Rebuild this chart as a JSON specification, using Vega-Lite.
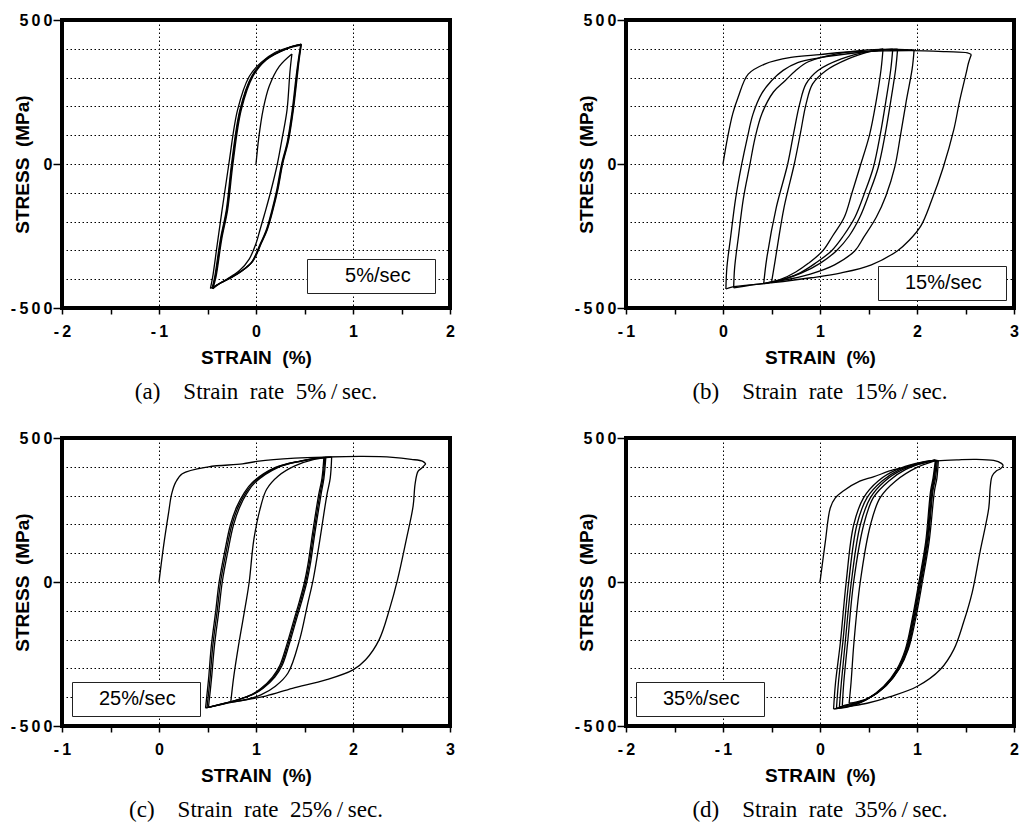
{
"$schema": "https://vega.github.io/schema/vega-lite/v6.json",
"background": "white",
"padding": {"left": 8, "top": 10, "right": 4, "bottom": 4},
"columns": 2,
"spacing": {"row": 22, "column": 115},
"datasets": {
"A": [
{"c":1,"i":0,"x":0,"y":0},{"c":1,"i":1,"x":0.03,"y":95},{"c":1,"i":2,"x":0.073,"y":188},{"c":1,"i":3,"x":0.135,"y":269},{"c":1,"i":4,"x":0.24,"y":339},{"c":1,"i":5,"x":0.37,"y":382},
{"c":2,"i":0,"x":0.37,"y":382},{"c":2,"i":1,"x":0.35,"y":320},{"c":2,"i":2,"x":0.32,"y":188},{"c":2,"i":3,"x":0.27,"y":90},{"c":2,"i":4,"x":0.22,"y":0},{"c":2,"i":5,"x":0.16,"y":-85},{"c":2,"i":6,"x":0.10,"y":-160},{"c":2,"i":7,"x":0.04,"y":-230},{"c":2,"i":8,"x":0.0,"y":-276},{"c":2,"i":9,"x":-0.07,"y":-330},{"c":2,"i":10,"x":-0.17,"y":-370},{"c":2,"i":11,"x":-0.30,"y":-400},{"c":2,"i":12,"x":-0.47,"y":-432},
{"c":3,"i":0,"x":-0.47,"y":-432},{"c":3,"i":1,"x":-0.447,"y":-393},{"c":3,"i":2,"x":-0.40,"y":-280},{"c":3,"i":3,"x":-0.35,"y":-160},{"c":3,"i":4,"x":-0.28,"y":0},{"c":3,"i":5,"x":-0.19,"y":188},{"c":3,"i":6,"x":-0.07,"y":304},{"c":3,"i":7,"x":0.05,"y":352},{"c":3,"i":8,"x":0.2,"y":388},{"c":3,"i":9,"x":0.35,"y":406},{"c":3,"i":10,"x":0.465,"y":415},
{"c":4,"i":0,"x":0.465,"y":415},{"c":4,"i":1,"x":0.44,"y":360},{"c":4,"i":2,"x":0.42,"y":304},{"c":4,"i":3,"x":0.38,"y":188},{"c":4,"i":4,"x":0.33,"y":80},{"c":4,"i":5,"x":0.27,"y":0},{"c":4,"i":6,"x":0.22,"y":-90},{"c":4,"i":7,"x":0.17,"y":-160},{"c":4,"i":8,"x":0.11,"y":-230},{"c":4,"i":9,"x":0.05,"y":-276},{"c":4,"i":10,"x":-0.04,"y":-340},{"c":4,"i":11,"x":-0.15,"y":-372},{"c":4,"i":12,"x":-0.25,"y":-393},{"c":4,"i":13,"x":-0.38,"y":-416},{"c":4,"i":14,"x":-0.45,"y":-432},
{"c":5,"i":0,"x":-0.45,"y":-432},{"c":5,"i":1,"x":-0.42,"y":-393},{"c":5,"i":2,"x":-0.36,"y":-260},{"c":5,"i":3,"x":-0.30,"y":-160},{"c":5,"i":4,"x":-0.246,"y":0},{"c":5,"i":5,"x":-0.16,"y":188},{"c":5,"i":6,"x":-0.04,"y":304},{"c":5,"i":7,"x":0.10,"y":362},{"c":5,"i":8,"x":0.31,"y":400},{"c":5,"i":9,"x":0.465,"y":415},
{"c":6,"i":0,"x":0.46,"y":413},{"c":6,"i":1,"x":0.435,"y":358},{"c":6,"i":2,"x":0.413,"y":302},{"c":6,"i":3,"x":0.373,"y":186},{"c":6,"i":4,"x":0.323,"y":78},{"c":6,"i":5,"x":0.263,"y":-2},{"c":6,"i":6,"x":0.213,"y":-92},{"c":6,"i":7,"x":0.163,"y":-162},{"c":6,"i":8,"x":0.103,"y":-232},{"c":6,"i":9,"x":0.043,"y":-278},{"c":6,"i":10,"x":-0.047,"y":-342},{"c":6,"i":11,"x":-0.157,"y":-374},{"c":6,"i":12,"x":-0.257,"y":-395},{"c":6,"i":13,"x":-0.387,"y":-418},{"c":6,"i":14,"x":-0.445,"y":-433},
{"c":7,"i":0,"x":-0.445,"y":-433},{"c":7,"i":1,"x":-0.413,"y":-393},{"c":7,"i":2,"x":-0.353,"y":-260},{"c":7,"i":3,"x":-0.293,"y":-160},{"c":7,"i":4,"x":-0.238,"y":0},{"c":7,"i":5,"x":-0.152,"y":188},{"c":7,"i":6,"x":-0.032,"y":304},{"c":7,"i":7,"x":0.108,"y":362},{"c":7,"i":8,"x":0.318,"y":400},{"c":7,"i":9,"x":0.46,"y":413},
{"c":8,"i":0,"x":0.468,"y":416},{"c":8,"i":1,"x":0.445,"y":362},{"c":8,"i":2,"x":0.426,"y":306},{"c":8,"i":3,"x":0.386,"y":190},{"c":8,"i":4,"x":0.336,"y":82},{"c":8,"i":5,"x":0.276,"y":2},{"c":8,"i":6,"x":0.226,"y":-88},{"c":8,"i":7,"x":0.176,"y":-158},{"c":8,"i":8,"x":0.116,"y":-228},{"c":8,"i":9,"x":0.056,"y":-274},{"c":8,"i":10,"x":-0.034,"y":-338},{"c":8,"i":11,"x":-0.144,"y":-370},{"c":8,"i":12,"x":-0.244,"y":-391},{"c":8,"i":13,"x":-0.374,"y":-414},{"c":8,"i":14,"x":-0.452,"y":-431},
{"c":9,"i":0,"x":-0.452,"y":-431},{"c":9,"i":1,"x":-0.426,"y":-393},{"c":9,"i":2,"x":-0.366,"y":-260},{"c":9,"i":3,"x":-0.306,"y":-160},{"c":9,"i":4,"x":-0.252,"y":0},{"c":9,"i":5,"x":-0.166,"y":188},{"c":9,"i":6,"x":-0.046,"y":304},{"c":9,"i":7,"x":0.094,"y":362},{"c":9,"i":8,"x":0.304,"y":400},{"c":9,"i":9,"x":0.468,"y":416}
],
"B": [
{"c":1,"i":0,"x":0,"y":0},{"c":1,"i":1,"x":0.048,"y":93},{"c":1,"i":2,"x":0.10,"y":174},{"c":1,"i":3,"x":0.155,"y":231},{"c":1,"i":4,"x":0.26,"y":312},{"c":1,"i":5,"x":0.43,"y":347},{"c":1,"i":6,"x":0.70,"y":370},{"c":1,"i":7,"x":1.0,"y":380},{"c":1,"i":8,"x":1.25,"y":388},{"c":1,"i":9,"x":1.6,"y":392},{"c":1,"i":10,"x":1.94,"y":394},{"c":1,"i":11,"x":2.3,"y":390},{"c":1,"i":12,"x":2.52,"y":386},{"c":1,"i":13,"x":2.56,"y":380},
{"c":2,"i":0,"x":2.56,"y":380},{"c":2,"i":1,"x":2.53,"y":350},{"c":2,"i":2,"x":2.51,"y":320},{"c":2,"i":3,"x":2.44,"y":220},{"c":2,"i":4,"x":2.38,"y":120},{"c":2,"i":5,"x":2.27,"y":-12},{"c":2,"i":6,"x":2.15,"y":-127},{"c":2,"i":7,"x":2.04,"y":-215},{"c":2,"i":8,"x":1.92,"y":-265},{"c":2,"i":9,"x":1.80,"y":-301},{"c":2,"i":10,"x":1.53,"y":-350},{"c":2,"i":11,"x":1.22,"y":-378},{"c":2,"i":12,"x":0.91,"y":-395},{"c":2,"i":13,"x":0.49,"y":-413},{"c":2,"i":14,"x":0.08,"y":-428},{"c":2,"i":15,"x":0.03,"y":-434},
{"c":3,"i":0,"x":0.03,"y":-434},{"c":3,"i":1,"x":0.04,"y":-360},{"c":3,"i":2,"x":0.08,"y":-250},{"c":3,"i":3,"x":0.13,"y":-120},{"c":3,"i":4,"x":0.19,"y":-6},{"c":3,"i":5,"x":0.25,"y":90},{"c":3,"i":6,"x":0.31,"y":174},{"c":3,"i":7,"x":0.40,"y":245},{"c":3,"i":8,"x":0.50,"y":289},{"c":3,"i":9,"x":0.62,"y":325},{"c":3,"i":10,"x":0.77,"y":352},{"c":3,"i":11,"x":0.98,"y":368},{"c":3,"i":12,"x":1.42,"y":388},{"c":3,"i":13,"x":1.77,"y":398},{"c":3,"i":14,"x":1.97,"y":396},
{"c":4,"i":0,"x":1.97,"y":396},{"c":4,"i":1,"x":1.95,"y":330},{"c":4,"i":2,"x":1.89,"y":220},{"c":4,"i":3,"x":1.83,"y":100},{"c":4,"i":4,"x":1.77,"y":-12},{"c":4,"i":5,"x":1.68,"y":-110},{"c":4,"i":6,"x":1.58,"y":-185},{"c":4,"i":7,"x":1.45,"y":-255},{"c":4,"i":8,"x":1.36,"y":-301},{"c":4,"i":9,"x":1.15,"y":-350},{"c":4,"i":10,"x":0.9,"y":-382},{"c":4,"i":11,"x":0.6,"y":-405},{"c":4,"i":12,"x":0.3,"y":-420},{"c":4,"i":13,"x":0.11,"y":-430},
{"c":5,"i":0,"x":0.11,"y":-430},{"c":5,"i":1,"x":0.12,"y":-360},{"c":5,"i":2,"x":0.16,"y":-250},{"c":5,"i":3,"x":0.21,"y":-120},{"c":5,"i":4,"x":0.275,"y":-6},{"c":5,"i":5,"x":0.33,"y":90},{"c":5,"i":6,"x":0.40,"y":174},{"c":5,"i":7,"x":0.52,"y":250},{"c":5,"i":8,"x":0.64,"y":289},{"c":5,"i":9,"x":0.75,"y":325},{"c":5,"i":10,"x":0.88,"y":355},{"c":5,"i":11,"x":1.2,"y":384},{"c":5,"i":12,"x":1.5,"y":396},{"c":5,"i":13,"x":1.80,"y":399},
{"c":6,"i":0,"x":1.80,"y":399},{"c":6,"i":1,"x":1.78,"y":330},{"c":6,"i":2,"x":1.73,"y":220},{"c":6,"i":3,"x":1.67,"y":100},{"c":6,"i":4,"x":1.60,"y":-12},{"c":6,"i":5,"x":1.51,"y":-100},{"c":6,"i":6,"x":1.41,"y":-185},{"c":6,"i":7,"x":1.30,"y":-250},{"c":6,"i":8,"x":1.17,"y":-301},{"c":6,"i":9,"x":1.0,"y":-345},{"c":6,"i":10,"x":0.8,"y":-380},{"c":6,"i":11,"x":0.6,"y":-402},{"c":6,"i":12,"x":0.42,"y":-415},
{"c":7,"i":0,"x":0.42,"y":-415},{"c":7,"i":1,"x":0.45,"y":-330},{"c":7,"i":2,"x":0.55,"y":-150},{"c":7,"i":3,"x":0.667,"y":0},{"c":7,"i":4,"x":0.73,"y":110},{"c":7,"i":5,"x":0.79,"y":208},{"c":7,"i":6,"x":0.856,"y":278},{"c":7,"i":7,"x":0.976,"y":324},{"c":7,"i":8,"x":1.22,"y":365},{"c":7,"i":9,"x":1.5,"y":390},{"c":7,"i":10,"x":1.75,"y":399},
{"c":8,"i":0,"x":1.75,"y":399},{"c":8,"i":1,"x":1.73,"y":330},{"c":8,"i":2,"x":1.68,"y":220},{"c":8,"i":3,"x":1.62,"y":100},{"c":8,"i":4,"x":1.55,"y":-12},{"c":8,"i":5,"x":1.46,"y":-100},{"c":8,"i":6,"x":1.36,"y":-185},{"c":8,"i":7,"x":1.24,"y":-250},{"c":8,"i":8,"x":1.12,"y":-301},{"c":8,"i":9,"x":0.95,"y":-345},{"c":8,"i":10,"x":0.8,"y":-377},{"c":8,"i":11,"x":0.65,"y":-398},{"c":8,"i":12,"x":0.5,"y":-412},
{"c":9,"i":0,"x":0.5,"y":-412},{"c":9,"i":1,"x":0.54,"y":-330},{"c":9,"i":2,"x":0.63,"y":-150},{"c":9,"i":3,"x":0.735,"y":0},{"c":9,"i":4,"x":0.80,"y":110},{"c":9,"i":5,"x":0.856,"y":208},{"c":9,"i":6,"x":0.924,"y":278},{"c":9,"i":7,"x":1.06,"y":324},{"c":9,"i":8,"x":1.29,"y":365},{"c":9,"i":9,"x":1.5,"y":389},{"c":9,"i":10,"x":1.65,"y":400},
{"c":10,"i":0,"x":1.65,"y":400},{"c":10,"i":1,"x":1.63,"y":330},{"c":10,"i":2,"x":1.58,"y":220},{"c":10,"i":3,"x":1.51,"y":100},{"c":10,"i":4,"x":1.41,"y":-12},{"c":10,"i":5,"x":1.33,"y":-100},{"c":10,"i":6,"x":1.25,"y":-185},{"c":10,"i":7,"x":1.13,"y":-250},{"c":10,"i":8,"x":1.03,"y":-301},{"c":10,"i":9,"x":0.88,"y":-345},{"c":10,"i":10,"x":0.75,"y":-375},{"c":10,"i":11,"x":0.6,"y":-400},{"c":10,"i":12,"x":0.45,"y":-413}
],
"C": [
{"c":1,"i":0,"x":0,"y":0},{"c":1,"i":1,"x":0.048,"y":127},{"c":1,"i":2,"x":0.10,"y":243},{"c":1,"i":3,"x":0.13,"y":305},{"c":1,"i":4,"x":0.17,"y":345},{"c":1,"i":5,"x":0.24,"y":376},{"c":1,"i":6,"x":0.51,"y":400},{"c":1,"i":7,"x":0.86,"y":410},{"c":1,"i":8,"x":1.03,"y":420},{"c":1,"i":9,"x":1.4,"y":430},{"c":1,"i":10,"x":1.72,"y":434},{"c":1,"i":11,"x":2.1,"y":436},{"c":1,"i":12,"x":2.41,"y":433},{"c":1,"i":13,"x":2.6,"y":426},{"c":1,"i":14,"x":2.72,"y":419},{"c":1,"i":15,"x":2.75,"y":410},
{"c":2,"i":0,"x":2.75,"y":410},{"c":2,"i":1,"x":2.71,"y":396},{"c":2,"i":2,"x":2.67,"y":384},{"c":2,"i":3,"x":2.64,"y":340},{"c":2,"i":4,"x":2.62,"y":264},{"c":2,"i":5,"x":2.55,"y":148},{"c":2,"i":6,"x":2.46,"y":9},{"c":2,"i":7,"x":2.375,"y":-96},{"c":2,"i":8,"x":2.27,"y":-200},{"c":2,"i":9,"x":2.13,"y":-270},{"c":2,"i":10,"x":2.0,"y":-305},{"c":2,"i":11,"x":1.72,"y":-340},{"c":2,"i":12,"x":1.375,"y":-369},{"c":2,"i":13,"x":1.10,"y":-396},{"c":2,"i":14,"x":0.76,"y":-417},{"c":2,"i":15,"x":0.48,"y":-437},
{"c":3,"i":0,"x":0.48,"y":-437},{"c":3,"i":1,"x":0.51,"y":-340},{"c":3,"i":2,"x":0.54,"y":-220},{"c":3,"i":3,"x":0.585,"y":-100},{"c":3,"i":4,"x":0.62,"y":0},{"c":3,"i":5,"x":0.68,"y":110},{"c":3,"i":6,"x":0.735,"y":197},{"c":3,"i":7,"x":0.80,"y":260},{"c":3,"i":8,"x":0.88,"y":310},{"c":3,"i":9,"x":0.96,"y":345},{"c":3,"i":10,"x":1.2,"y":398},{"c":3,"i":11,"x":1.45,"y":420},{"c":3,"i":12,"x":1.62,"y":430},{"c":3,"i":13,"x":1.70,"y":433},
{"c":4,"i":0,"x":1.70,"y":433},{"c":4,"i":1,"x":1.68,"y":360},{"c":4,"i":2,"x":1.645,"y":301},{"c":4,"i":3,"x":1.585,"y":174},{"c":4,"i":4,"x":1.535,"y":60},{"c":4,"i":5,"x":1.50,"y":0},{"c":4,"i":6,"x":1.445,"y":-70},{"c":4,"i":7,"x":1.395,"y":-127},{"c":4,"i":8,"x":1.315,"y":-220},{"c":4,"i":9,"x":1.245,"y":-290},{"c":4,"i":10,"x":1.17,"y":-330},{"c":4,"i":11,"x":1.05,"y":-370},{"c":4,"i":12,"x":0.96,"y":-390},{"c":4,"i":13,"x":0.80,"y":-410},{"c":4,"i":14,"x":0.67,"y":-422},{"c":4,"i":15,"x":0.48,"y":-437},
{"c":5,"i":0,"x":0.495,"y":-436},{"c":5,"i":1,"x":0.525,"y":-340},{"c":5,"i":2,"x":0.555,"y":-220},{"c":5,"i":3,"x":0.60,"y":-100},{"c":5,"i":4,"x":0.635,"y":0},{"c":5,"i":5,"x":0.695,"y":110},{"c":5,"i":6,"x":0.75,"y":197},{"c":5,"i":7,"x":0.815,"y":260},{"c":5,"i":8,"x":0.895,"y":310},{"c":5,"i":9,"x":0.975,"y":345},{"c":5,"i":10,"x":1.215,"y":398},{"c":5,"i":11,"x":1.46,"y":420},{"c":5,"i":12,"x":1.63,"y":430},{"c":5,"i":13,"x":1.71,"y":433},
{"c":6,"i":0,"x":1.71,"y":433},{"c":6,"i":1,"x":1.69,"y":360},{"c":6,"i":2,"x":1.657,"y":301},{"c":6,"i":3,"x":1.597,"y":174},{"c":6,"i":4,"x":1.547,"y":60},{"c":6,"i":5,"x":1.512,"y":0},{"c":6,"i":6,"x":1.457,"y":-70},{"c":6,"i":7,"x":1.407,"y":-127},{"c":6,"i":8,"x":1.327,"y":-220},{"c":6,"i":9,"x":1.257,"y":-290},{"c":6,"i":10,"x":1.182,"y":-330},{"c":6,"i":11,"x":1.062,"y":-370},{"c":6,"i":12,"x":0.972,"y":-389},{"c":6,"i":13,"x":0.812,"y":-409},{"c":6,"i":14,"x":0.682,"y":-421},{"c":6,"i":15,"x":0.495,"y":-436},
{"c":7,"i":0,"x":0.51,"y":-435},{"c":7,"i":1,"x":0.54,"y":-340},{"c":7,"i":2,"x":0.572,"y":-220},{"c":7,"i":3,"x":0.617,"y":-100},{"c":7,"i":4,"x":0.652,"y":0},{"c":7,"i":5,"x":0.712,"y":110},{"c":7,"i":6,"x":0.767,"y":197},{"c":7,"i":7,"x":0.832,"y":260},{"c":7,"i":8,"x":0.91,"y":310},{"c":7,"i":9,"x":0.99,"y":345},{"c":7,"i":10,"x":1.23,"y":398},{"c":7,"i":11,"x":1.47,"y":420},{"c":7,"i":12,"x":1.64,"y":430},{"c":7,"i":13,"x":1.72,"y":433},
{"c":8,"i":0,"x":1.72,"y":433},{"c":8,"i":1,"x":1.70,"y":360},{"c":8,"i":2,"x":1.669,"y":301},{"c":8,"i":3,"x":1.609,"y":174},{"c":8,"i":4,"x":1.559,"y":60},{"c":8,"i":5,"x":1.524,"y":0},{"c":8,"i":6,"x":1.469,"y":-70},{"c":8,"i":7,"x":1.419,"y":-127},{"c":8,"i":8,"x":1.339,"y":-220},{"c":8,"i":9,"x":1.269,"y":-290},{"c":8,"i":10,"x":1.194,"y":-330},{"c":8,"i":11,"x":1.074,"y":-369},{"c":8,"i":12,"x":0.984,"y":-388},{"c":8,"i":13,"x":0.824,"y":-408},{"c":8,"i":14,"x":0.694,"y":-420},{"c":8,"i":15,"x":0.51,"y":-435},
{"c":9,"i":0,"x":0.74,"y":-417},{"c":9,"i":1,"x":0.77,"y":-330},{"c":9,"i":2,"x":0.82,"y":-220},{"c":9,"i":3,"x":0.89,"y":-84},{"c":9,"i":4,"x":0.93,"y":0},{"c":9,"i":5,"x":0.978,"y":148},{"c":9,"i":6,"x":1.05,"y":264},{"c":9,"i":7,"x":1.11,"y":322},{"c":9,"i":8,"x":1.23,"y":368},{"c":9,"i":9,"x":1.40,"y":403},{"c":9,"i":10,"x":1.6,"y":426},{"c":9,"i":11,"x":1.78,"y":434},
{"c":10,"i":0,"x":1.78,"y":434},{"c":10,"i":1,"x":1.765,"y":360},{"c":10,"i":2,"x":1.73,"y":301},{"c":10,"i":3,"x":1.66,"y":150},{"c":10,"i":4,"x":1.59,"y":9},{"c":10,"i":5,"x":1.53,"y":-80},{"c":10,"i":6,"x":1.45,"y":-200},{"c":10,"i":7,"x":1.33,"y":-316},{"c":10,"i":8,"x":1.2,"y":-362},{"c":10,"i":9,"x":1.05,"y":-392},{"c":10,"i":10,"x":0.9,"y":-408},{"c":10,"i":11,"x":0.74,"y":-417}
],
"D": [
{"c":1,"i":0,"x":0,"y":0},{"c":1,"i":1,"x":0.055,"y":140},{"c":1,"i":2,"x":0.106,"y":257},{"c":1,"i":3,"x":0.158,"y":292},{"c":1,"i":4,"x":0.24,"y":316},{"c":1,"i":5,"x":0.41,"y":350},{"c":1,"i":6,"x":0.55,"y":365},{"c":1,"i":7,"x":0.76,"y":390},{"c":1,"i":8,"x":0.9,"y":400},{"c":1,"i":9,"x":1.17,"y":420},{"c":1,"i":10,"x":1.41,"y":424},{"c":1,"i":11,"x":1.6,"y":426},{"c":1,"i":12,"x":1.79,"y":422},{"c":1,"i":13,"x":1.87,"y":412},{"c":1,"i":14,"x":1.89,"y":404},
{"c":2,"i":0,"x":1.89,"y":404},{"c":2,"i":1,"x":1.86,"y":393},{"c":2,"i":2,"x":1.82,"y":386},{"c":2,"i":3,"x":1.775,"y":368},{"c":2,"i":4,"x":1.755,"y":330},{"c":2,"i":5,"x":1.74,"y":257},{"c":2,"i":6,"x":1.65,"y":105},{"c":2,"i":7,"x":1.57,"y":-35},{"c":2,"i":8,"x":1.48,"y":-140},{"c":2,"i":9,"x":1.38,"y":-234},{"c":2,"i":10,"x":1.24,"y":-304},{"c":2,"i":11,"x":1.0,"y":-363},{"c":2,"i":12,"x":0.725,"y":-398},{"c":2,"i":13,"x":0.485,"y":-421},{"c":2,"i":14,"x":0.30,"y":-432},{"c":2,"i":15,"x":0.16,"y":-440},
{"c":3,"i":0,"x":0.14,"y":-441},{"c":3,"i":1,"x":0.16,"y":-350},{"c":3,"i":2,"x":0.21,"y":-210},{"c":3,"i":3,"x":0.27,"y":0},{"c":3,"i":4,"x":0.347,"y":198},{"c":3,"i":5,"x":0.45,"y":293},{"c":3,"i":6,"x":0.60,"y":351},{"c":3,"i":7,"x":0.79,"y":390},{"c":3,"i":8,"x":0.99,"y":412},{"c":3,"i":9,"x":1.19,"y":423},
{"c":4,"i":0,"x":0.17,"y":-438},{"c":4,"i":1,"x":0.19,"y":-350},{"c":4,"i":2,"x":0.235,"y":-210},{"c":4,"i":3,"x":0.296,"y":0},{"c":4,"i":4,"x":0.38,"y":198},{"c":4,"i":5,"x":0.485,"y":293},{"c":4,"i":6,"x":0.64,"y":351},{"c":4,"i":7,"x":0.82,"y":390},{"c":4,"i":8,"x":1.01,"y":412},{"c":4,"i":9,"x":1.19,"y":423},
{"c":5,"i":0,"x":0.20,"y":-434},{"c":5,"i":1,"x":0.22,"y":-350},{"c":5,"i":2,"x":0.26,"y":-210},{"c":5,"i":3,"x":0.323,"y":0},{"c":5,"i":4,"x":0.415,"y":198},{"c":5,"i":5,"x":0.52,"y":293},{"c":5,"i":6,"x":0.67,"y":351},{"c":5,"i":7,"x":0.85,"y":390},{"c":5,"i":8,"x":1.03,"y":412},{"c":5,"i":9,"x":1.19,"y":423},
{"c":6,"i":0,"x":0.23,"y":-430},{"c":6,"i":1,"x":0.245,"y":-350},{"c":6,"i":2,"x":0.285,"y":-210},{"c":6,"i":3,"x":0.347,"y":0},{"c":6,"i":4,"x":0.45,"y":198},{"c":6,"i":5,"x":0.55,"y":293},{"c":6,"i":6,"x":0.71,"y":351},{"c":6,"i":7,"x":0.88,"y":390},{"c":6,"i":8,"x":1.05,"y":412},{"c":6,"i":9,"x":1.19,"y":423},
{"c":7,"i":0,"x":0.30,"y":-421},{"c":7,"i":1,"x":0.32,"y":-350},{"c":7,"i":2,"x":0.35,"y":-210},{"c":7,"i":3,"x":0.415,"y":0},{"c":7,"i":4,"x":0.52,"y":198},{"c":7,"i":5,"x":0.62,"y":293},{"c":7,"i":6,"x":0.78,"y":351},{"c":7,"i":7,"x":1.0,"y":398},{"c":7,"i":8,"x":1.17,"y":419},{"c":7,"i":9,"x":1.21,"y":423},
{"c":8,"i":0,"x":1.19,"y":423},{"c":8,"i":1,"x":1.165,"y":360},{"c":8,"i":2,"x":1.14,"y":316},{"c":8,"i":3,"x":1.09,"y":140},{"c":8,"i":4,"x":1.02,"y":0},{"c":8,"i":5,"x":0.95,"y":-129},{"c":8,"i":6,"x":0.88,"y":-234},{"c":8,"i":7,"x":0.79,"y":-304},{"c":8,"i":8,"x":0.655,"y":-363},{"c":8,"i":9,"x":0.47,"y":-410},{"c":8,"i":10,"x":0.30,"y":-433},{"c":8,"i":11,"x":0.14,"y":-441},
{"c":9,"i":0,"x":1.195,"y":423},{"c":9,"i":1,"x":1.173,"y":360},{"c":9,"i":2,"x":1.148,"y":316},{"c":9,"i":3,"x":1.098,"y":140},{"c":9,"i":4,"x":1.028,"y":0},{"c":9,"i":5,"x":0.958,"y":-129},{"c":9,"i":6,"x":0.888,"y":-234},{"c":9,"i":7,"x":0.798,"y":-304},{"c":9,"i":8,"x":0.663,"y":-363},{"c":9,"i":9,"x":0.48,"y":-408},{"c":9,"i":10,"x":0.32,"y":-428},{"c":9,"i":11,"x":0.17,"y":-438},
{"c":10,"i":0,"x":1.20,"y":423},{"c":10,"i":1,"x":1.18,"y":360},{"c":10,"i":2,"x":1.156,"y":316},{"c":10,"i":3,"x":1.106,"y":140},{"c":10,"i":4,"x":1.036,"y":0},{"c":10,"i":5,"x":0.966,"y":-129},{"c":10,"i":6,"x":0.896,"y":-234},{"c":10,"i":7,"x":0.806,"y":-304},{"c":10,"i":8,"x":0.671,"y":-362},{"c":10,"i":9,"x":0.49,"y":-406},{"c":10,"i":10,"x":0.34,"y":-424},{"c":10,"i":11,"x":0.20,"y":-434},
{"c":11,"i":0,"x":1.21,"y":423},{"c":11,"i":1,"x":1.19,"y":360},{"c":11,"i":2,"x":1.164,"y":316},{"c":11,"i":3,"x":1.114,"y":140},{"c":11,"i":4,"x":1.044,"y":0},{"c":11,"i":5,"x":0.974,"y":-129},{"c":11,"i":6,"x":0.904,"y":-234},{"c":11,"i":7,"x":0.814,"y":-302},{"c":11,"i":8,"x":0.68,"y":-360},{"c":11,"i":9,"x":0.50,"y":-404},{"c":11,"i":10,"x":0.36,"y":-420},{"c":11,"i":11,"x":0.23,"y":-430},
{"c":12,"i":0,"x":1.22,"y":423},{"c":12,"i":1,"x":1.205,"y":360},{"c":12,"i":2,"x":1.18,"y":316},{"c":12,"i":3,"x":1.125,"y":140},{"c":12,"i":4,"x":1.055,"y":0},{"c":12,"i":5,"x":0.985,"y":-129},{"c":12,"i":6,"x":0.91,"y":-234},{"c":12,"i":7,"x":0.82,"y":-300},{"c":12,"i":8,"x":0.69,"y":-357},{"c":12,"i":9,"x":0.51,"y":-402},{"c":12,"i":10,"x":0.38,"y":-416},{"c":12,"i":11,"x":0.30,"y":-421}
]
},
"concat": [
{
"width": 388, "height": 288,
"data": {"name": "A"},
"title": {"text": "(a)\u00a0\u00a0\u00a0\u00a0Strain\u00a0\u00a0rate\u00a0\u00a05%\u2009/\u2009sec."},
"mark": {"type": "line", "interpolate": "catmull-rom", "strokeWidth": 1.3, "strokeJoin": "round"},
"encoding": {
"x": {"field": "x", "type": "quantitative", "scale": {"domain": [-2, 2], "nice": false, "zero": false},
"axis": {"values": [-2, -1.5, -1, -0.5, 0, 0.5, 1, 1.5, 2], "title": "STRAIN\u00a0\u00a0(%)", "labelFontSize": 16, "labelExpr": "datum.value % 1 === 0 ? join(split(toString(datum.value), ''), '\u2009') : ''", "gridOpacity": {"condition": {"test": "datum.value % 1 === 0", "value": 1}, "value": 0}}},
"y": {"field": "y", "type": "quantitative", "scale": {"domain": [-500, 500], "nice": false},
"axis": {"values": [-500, -400, -300, -200, -100, 0, 100, 200, 300, 400, 500], "title": "STRESS\u00a0\u00a0(MPa)", "labelFontSize": 16, "labelExpr": "datum.value % 500 === 0 ? join(split(toString(datum.value), ''), '\u2009') : ''", "tickOpacity": {"condition": {"test": "datum.value % 500 === 0", "value": 1}, "value": 0}}},
"detail": {"field": "c"},
"order": {"field": "i"},
"color": {"datum": "\u200b\u20075%/sec\u00a0\u00a0\u00a0\u200b", "scale": {"range": ["black"]}, "legend": {"orient": "bottom-right", "offset": 15, "title": null}}
}
},
{
"width": 388, "height": 288,
"data": {"name": "B"},
"title": {"text": "(b)\u00a0\u00a0\u00a0\u00a0Strain\u00a0\u00a0rate\u00a0\u00a015%\u2009/\u2009sec."},
"mark": {"type": "line", "interpolate": "catmull-rom", "strokeWidth": 1.3, "strokeJoin": "round"},
"encoding": {
"x": {"field": "x", "type": "quantitative", "scale": {"domain": [-1, 3], "nice": false, "zero": false},
"axis": {"values": [-1, -0.5, 0, 0.5, 1, 1.5, 2, 2.5, 3], "title": "STRAIN\u00a0\u00a0(%)", "labelFontSize": 16, "labelExpr": "datum.value % 1 === 0 ? join(split(toString(datum.value), ''), '\u2009') : ''", "gridOpacity": {"condition": {"test": "datum.value % 1 === 0", "value": 1}, "value": 0}}},
"y": {"field": "y", "type": "quantitative", "scale": {"domain": [-500, 500], "nice": false},
"axis": {"values": [-500, -400, -300, -200, -100, 0, 100, 200, 300, 400, 500], "title": "STRESS\u00a0\u00a0(MPa)", "labelFontSize": 16, "labelExpr": "datum.value % 500 === 0 ? join(split(toString(datum.value), ''), '\u2009') : ''", "tickOpacity": {"condition": {"test": "datum.value % 500 === 0", "value": 1}, "value": 0}}},
"detail": {"field": "c"},
"order": {"field": "i"},
"color": {"datum": "15%/sec\u00a0\u00a0\u00a0\u200b", "scale": {"range": ["black"]}, "legend": {"orient": "bottom-right", "offset": 8, "title": null}}
}
},
{
"width": 388, "height": 288,
"data": {"name": "C"},
"title": {"text": "(c)\u00a0\u00a0\u00a0\u00a0Strain\u00a0\u00a0rate\u00a0\u00a025%\u2009/\u2009sec."},
"mark": {"type": "line", "interpolate": "catmull-rom", "strokeWidth": 1.3, "strokeJoin": "round"},
"encoding": {
"x": {"field": "x", "type": "quantitative", "scale": {"domain": [-1, 3], "nice": false, "zero": false},
"axis": {"values": [-1, -0.5, 0, 0.5, 1, 1.5, 2, 2.5, 3], "title": "STRAIN\u00a0\u00a0(%)", "labelFontSize": 16, "labelExpr": "datum.value % 1 === 0 ? join(split(toString(datum.value), ''), '\u2009') : ''", "gridOpacity": {"condition": {"test": "datum.value % 1 === 0", "value": 1}, "value": 0}}},
"y": {"field": "y", "type": "quantitative", "scale": {"domain": [-500, 500], "nice": false},
"axis": {"values": [-500, -400, -300, -200, -100, 0, 100, 200, 300, 400, 500], "title": "STRESS\u00a0\u00a0(MPa)", "labelFontSize": 16, "labelExpr": "datum.value % 500 === 0 ? join(split(toString(datum.value), ''), '\u2009') : ''", "tickOpacity": {"condition": {"test": "datum.value % 500 === 0", "value": 1}, "value": 0}}},
"detail": {"field": "c"},
"order": {"field": "i"},
"color": {"datum": "25%/sec\u00a0\u00a0\u00a0\u200b", "scale": {"range": ["black"]}, "legend": {"orient": "bottom-left", "offset": 10, "title": null}}
}
},
{
"width": 388, "height": 288,
"data": {"name": "D"},
"title": {"text": "(d)\u00a0\u00a0\u00a0\u00a0Strain\u00a0\u00a0rate\u00a0\u00a035%\u2009/\u2009sec."},
"mark": {"type": "line", "interpolate": "catmull-rom", "strokeWidth": 1.3, "strokeJoin": "round"},
"encoding": {
"x": {"field": "x", "type": "quantitative", "scale": {"domain": [-2, 2], "nice": false, "zero": false},
"axis": {"values": [-2, -1.5, -1, -0.5, 0, 0.5, 1, 1.5, 2], "title": "STRAIN\u00a0\u00a0(%)", "labelFontSize": 16, "labelExpr": "datum.value % 1 === 0 ? join(split(toString(datum.value), ''), '\u2009') : ''", "gridOpacity": {"condition": {"test": "datum.value % 1 === 0", "value": 1}, "value": 0}}},
"y": {"field": "y", "type": "quantitative", "scale": {"domain": [-500, 500], "nice": false},
"axis": {"values": [-500, -400, -300, -200, -100, 0, 100, 200, 300, 400, 500], "title": "STRESS\u00a0\u00a0(MPa)", "labelFontSize": 16, "labelExpr": "datum.value % 500 === 0 ? join(split(toString(datum.value), ''), '\u2009') : ''", "tickOpacity": {"condition": {"test": "datum.value % 500 === 0", "value": 1}, "value": 0}}},
"detail": {"field": "c"},
"order": {"field": "i"},
"color": {"datum": "35%/sec\u00a0\u00a0\u00a0\u200b", "scale": {"range": ["black"]}, "legend": {"orient": "bottom-left", "offset": 10, "title": null}}
}
}
],
"resolve": {"scale": {"color": "independent", "x": "independent", "y": "independent"}, "legend": {"color": "independent"}, "axis": {"x": "independent", "y": "independent"}},
"config": {
"view": {"stroke": "black", "strokeWidth": 4},
"font": "Liberation Sans",
"title": {"orient": "bottom", "frame": "group", "anchor": "middle", "font": "Liberation Serif", "fontSize": 23, "fontWeight": "normal", "color": "black", "offset": 14},
"axis": {"domain": false, "labelFont": "Liberation Sans", "labelFontWeight": "bold", "labelFontSize": 16, "labelColor": "black", "labelOverlap": false, "labelFlush": false, "titleFont": "Liberation Sans", "titleFontWeight": "bold", "titleFontSize": 19, "titleColor": "black", "tickColor": "black", "tickWidth": 1.5, "gridColor": "black", "gridDash": [1.5, 2.5], "gridWidth": 1},
"axisX": {"tickSize": 6, "labelPadding": 9, "titlePadding": 9},
"axisY": {"tickSize": 9, "labelPadding": 1, "titleX": -30},
"legend": {"strokeColor": "#222", "strokeWidth": 1, "fillColor": "white", "padding": 7, "cornerRadius": 0, "labelFont": "Liberation Sans", "labelFontSize": 20, "labelColor": "black", "symbolType": "square", "symbolSize": 64, "symbolOpacity": 0, "symbolStrokeWidth": 0, "labelOffset": 0, "zindex": 1}
}
}
